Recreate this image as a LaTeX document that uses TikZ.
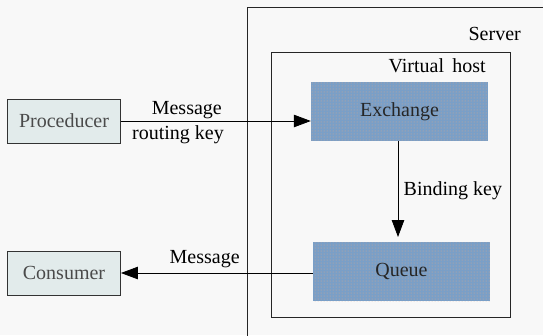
\documentclass[tikz,border=0pt]{standalone}
\usepackage{fontspec}
\setmainfont{Liberation Serif}
\newfontfamily\diagfont{Liberation Serif}
\usetikzlibrary{arrows.meta,patterns}
\definecolor{pagebg}{HTML}{F8F8F8}
\definecolor{clientfill}{HTML}{E2EBEB}
\definecolor{clienttext}{HTML}{4A4A4A}
\definecolor{brokerfill}{HTML}{7A9FC7}
\definecolor{brokerdot}{HTML}{D9A88E}
\tikzset{
  txt/.style={font=\diagfont\fontsize{20}{24}\selectfont, inner sep=0pt},
  client/.style={draw=black!80, line width=0.9pt, fill=clientfill, text=clienttext,
    minimum width=113pt, minimum height=44pt, inner sep=0pt, font=\diagfont\fontsize{20}{24}\selectfont},
  broker/.style={fill=brokerfill, text=black!85, minimum width=177pt, minimum height=59pt,
    inner sep=0pt, font=\diagfont\fontsize{20}{24}\selectfont,
    postaction={pattern=dots, pattern color=brokerdot}},
  frame/.style={draw=black!85, line width=0.9pt},
  flow/.style={draw=black, line width=0.8pt, -{Triangle[length=17pt,width=12.5pt]}},
}
\begin{document}
\begin{tikzpicture}[x=1pt,y=-1pt]
  % page background and fixed extent
  \fill[pagebg] (0,0) rectangle (543,335);
  \useasboundingbox (0,0) rectangle (543,335);

  % server frame runs off the right and bottom edges
  \draw[frame] (247,336) -- (247,7) -- (544,7);
  \node[txt, anchor=base east] (serverlbl) at (521,40) {Server};

  % virtual host frame
  \draw[frame] (271,52) rectangle (510,317);
  \node[txt, anchor=base east] (vhostlbl) at (486,72.5) {Virtual\,\ host};

  % exchange and queue
  \node[broker] (exchange) at (399.5,111.5) {\phantom{Exchange}};
  \node[txt, text=black!85] (exchangelbl) at (exchange) {Exchange};
  \node[broker] (queue) at (401.5,271.5) {\phantom{Queue}};
  \node[txt, text=black!85] (queuelbl) at (queue) {Queue};

  % producer and consumer
  \node[client] (producer) at (64,121) {Proceducer};
  \node[client] (consumer) at (64,273) {Consumer};

  % message flow
  \draw[flow] (producer.east) -- (producer.east -| exchange.west);
  \node[txt, anchor=base east] (msgin) at (222,114) {Message};
  \node[txt, anchor=base east] (rkey) at (224,139) {routing key};

  \coordinate (bindtop) at (398,141);
  \coordinate (bindend) at (398,237);
  \draw[flow] (bindtop) -- (bindend);
  \node[txt, anchor=base west] (bkey) at (403.5,195) {Binding key};

  \draw[flow] (consumer.east -| queue.west) -- (consumer.east);
  \node[txt, anchor=base west] (msgout) at (169.5,263) {Message};
\end{tikzpicture}
\end{document}
